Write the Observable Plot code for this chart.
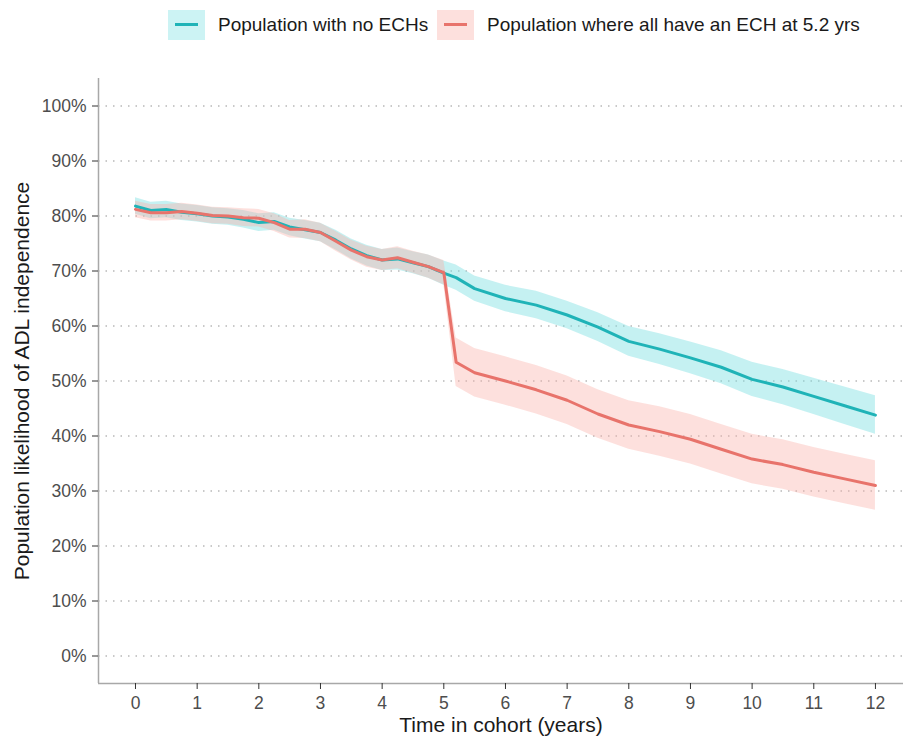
<!DOCTYPE html>
<html>
<head>
<meta charset="utf-8">
<script src="https://cdn.jsdelivr.net/npm/d3@7"></script>
<script src="https://cdn.jsdelivr.net/npm/@observablehq/plot@0.6"></script>
<style>
  html, body { margin: 0; padding: 0; background: #fff; overflow: hidden; }
  body { width: 903px; height: 741px; font-family: "Liberation Sans", Arial, sans-serif; }
  #legend { position: relative; height: 50px; }
  .item { position: absolute; top: 10px; display: flex; align-items: center; height: 30px; }
  .key { width: 37px; height: 30px; position: relative; margin-right: 13px; }
  .key span { position: absolute; left: 7px; right: 7px; top: 13px; height: 3px; }
  .lab { font-size: 19px; color: #1a1a1a; }
</style>
</head>
<body>
<div id="legend"></div>
<div id="chart"></div>
<script>
// ---- data ----
const seriesNames = ["Population with no ECHs", "Population where all have an ECH at 5.2 yrs"];
const seriesColors = ["#1fb3b7", "#e8736b"];
const bandColors = ["#7fe0e3", "#f9b1ab"];

const tNo = [0, 0.25, 0.5, 0.75, 1, 1.25, 1.5, 1.75, 2, 2.25, 2.5, 2.75, 3, 3.25, 3.5, 3.75, 4, 4.25, 4.5, 4.75, 5, 5.2, 5.5, 6, 6.5, 7, 7.5, 8, 8.5, 9, 9.5, 10, 10.5, 11, 11.5, 12];
const vNo = [81.8, 81.0, 81.2, 80.7, 80.4, 80.0, 79.8, 79.4, 78.8, 79.0, 78.0, 77.5, 77.0, 75.6, 74.0, 72.8, 72.0, 72.2, 71.5, 70.8, 69.6, 68.8, 66.8, 65.0, 63.8, 62.0, 59.8, 57.2, 55.8, 54.2, 52.5, 50.3, 48.9, 47.2, 45.5, 43.8];
const hwNo = [1.5, 1.5, 1.5, 1.5, 1.5, 1.5, 1.5, 1.6, 1.6, 1.6, 1.6, 1.7, 1.7, 1.8, 1.8, 1.9, 1.9, 2.0, 2.0, 2.1, 2.2, 2.3, 2.3, 2.4, 2.5, 2.5, 2.6, 2.7, 2.8, 2.9, 3.0, 3.1, 3.2, 3.3, 3.4, 3.5];

const tEch = [0, 0.25, 0.5, 0.75, 1, 1.25, 1.5, 1.75, 2, 2.25, 2.5, 2.75, 3, 3.25, 3.5, 3.75, 4, 4.25, 4.5, 4.75, 5, 5.2, 5.5, 6, 6.5, 7, 7.5, 8, 8.5, 9, 9.5, 10, 10.5, 11, 11.5, 12];
const vEch = [81.2, 80.6, 80.6, 80.8, 80.5, 80.1, 80.0, 79.7, 79.6, 78.8, 77.6, 77.6, 77.0, 75.4, 73.8, 72.6, 72.0, 72.4, 71.6, 70.8, 69.7, 53.4, 51.5, 50.0, 48.4, 46.5, 44.0, 42.0, 40.8, 39.4, 37.6, 35.8, 34.8, 33.4, 32.2, 31.0];
const hwEch = [1.5, 1.5, 1.5, 1.5, 1.5, 1.5, 1.5, 1.6, 1.6, 1.6, 1.6, 1.7, 1.7, 1.8, 1.8, 1.9, 1.9, 2.0, 2.0, 2.1, 2.2, 4.4, 4.4, 4.4, 4.4, 4.4, 4.4, 4.4, 4.5, 4.5, 4.5, 4.5, 4.5, 4.5, 4.5, 4.5];

const xTicks = [0, 1, 2, 3, 4, 5, 6, 7, 8, 9, 10, 11, 12];
const yTicks = [0, 10, 20, 30, 40, 50, 60, 70, 80, 90, 100];
const xDomain = [-0.6, 12.455];
const yDomain = [-5, 105];
const xTitle = "Time in cohort (years)";
const yTitle = "Population likelihood of ADL independence";

// ---- build tables ----
const noData = tNo.map((t, i) => ({t, v: vNo[i], lo: vNo[i] - hwNo[i], hi: vNo[i] + hwNo[i]}));
const echData = tEch.map((t, i) => ({t, v: vEch[i], lo: vEch[i] - hwEch[i], hi: vEch[i] + hwEch[i]}));

// ---- legend ----
const legend = document.getElementById("legend");
const lefts = [168, 437];
seriesNames.forEach((name, i) => {
  const item = document.createElement("div");
  item.className = "item";
  item.style.left = lefts[i] + "px";
  const key = document.createElement("div");
  key.className = "key";
  key.style.background = bandColors[i] + "66";
  const ln = document.createElement("span");
  ln.style.background = seriesColors[i];
  key.appendChild(ln);
  const lab = document.createElement("div");
  lab.className = "lab";
  lab.textContent = name;
  item.appendChild(key);
  item.appendChild(lab);
  legend.appendChild(item);
});

// ---- chart ----
const chart = Plot.plot({
  width: 903,
  height: 691,
  marginLeft: 98,
  marginRight: 0,
  marginTop: 28,
  marginBottom: 58,
  style: {fontFamily: "Liberation Sans, Arial, sans-serif", color: "#4d4d4d", background: "#fff", overflow: "visible"},
  x: {domain: xDomain},
  y: {domain: yDomain},
  marks: [
    Plot.gridY(yTicks, {stroke: "#b8b8b8", strokeOpacity: 1, strokeWidth: 1.5, strokeDasharray: "1.5,6"}),
    Plot.areaY(noData, {x: "t", y1: "lo", y2: "hi", fill: bandColors[0], fillOpacity: 0.45, curve: "linear"}),
    Plot.areaY(echData, {x: "t", y1: "lo", y2: "hi", fill: bandColors[1], fillOpacity: 0.4, curve: "linear"}),
    Plot.line(noData, {x: "t", y: "v", stroke: seriesColors[0], strokeWidth: 3}),
    Plot.line(echData, {x: "t", y: "v", stroke: seriesColors[1], strokeWidth: 3}),
    Plot.ruleX([xDomain[0]], {stroke: "#a8a8a8", strokeWidth: 1.5}),
    Plot.ruleY([yDomain[0]], {stroke: "#a8a8a8", strokeWidth: 1.5}),
    Plot.axisY(yTicks, {tickFormat: d => d + "%", tickSize: 6, tickPadding: 6, fontSize: 17.5, label: null, stroke: "#333"}),
    Plot.axisX(xTicks, {tickFormat: d => String(d), tickSize: 6, tickPadding: 7, fontSize: 17.5, label: null, stroke: "#333"}),
    Plot.text([xTitle], {frameAnchor: "bottom", dy: 48, fontSize: 21, fill: "#1a1a1a"}),
    Plot.text([yTitle], {frameAnchor: "left", textAnchor: "middle", rotate: -90, dx: -76, fontSize: 21, fill: "#1a1a1a"})
  ]
});
document.getElementById("chart").appendChild(chart);
</script>
</body>
</html>
